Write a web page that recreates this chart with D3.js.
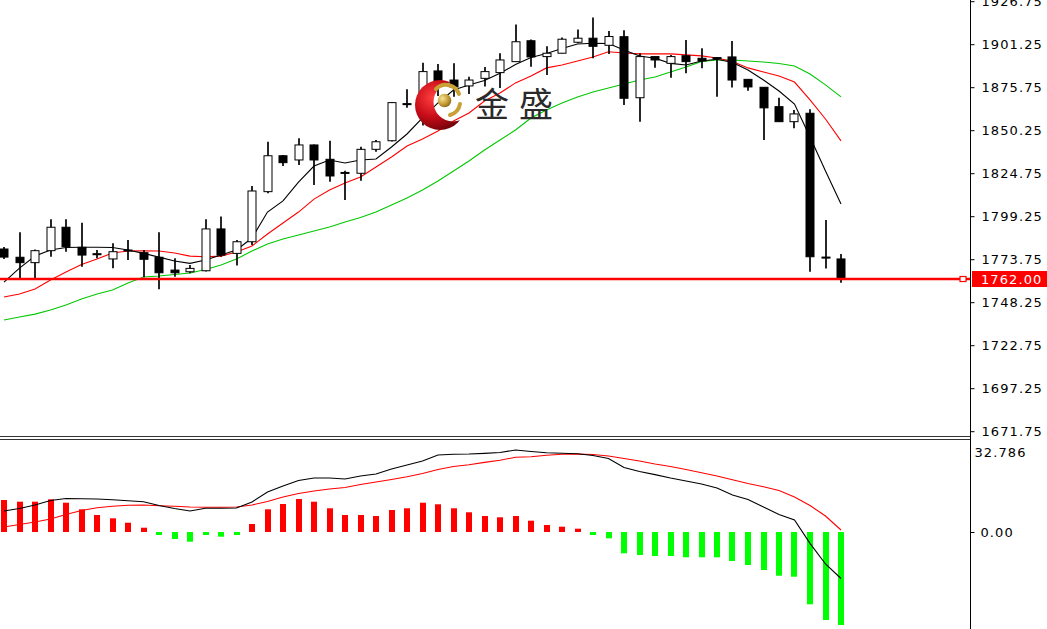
<!DOCTYPE html>
<html><head><meta charset="utf-8">
<script src="https://cdn.jsdelivr.net/npm/d3@7"></script>
<style>html,body{margin:0;padding:0;background:#fff;overflow:hidden}svg{display:block}</style>
</head><body>
<svg id="chart" width="1047" height="629"></svg>
<script>
// ---- data ----
const openP  = [1779.8,1774.9,1771.7,1778.8,1792.7,1780.8,1777.0,1773.9,1779.2,1777.6,1774.9,1767.3,1766.3,1766.9,1791.7,1777.2,1784.1,1813.8,1835.1,1832.6,1841.5,1833.0,1825.2,1824.7,1838.9,1844.0,1866.0,1862.0,1885.4,1880.0,1876.5,1881.0,1884.4,1890.9,1903.3,1893.9,1895.9,1902.4,1904.8,1900.6,1905.7,1869.5,1893.9,1889.9,1894.4,1892.9,1893.3,1893.7,1880.4,1875.7,1864.2,1855.3,1860.3,1775.0,1773.9];
const highP  = [1781.0,1789.7,1779.5,1797.4,1797.4,1795.4,1779.2,1783.2,1785.1,1779.2,1789.7,1774.3,1770.3,1797.4,1799.0,1785.1,1817.2,1843.4,1835.5,1845.5,1841.8,1844.0,1826.2,1840.5,1844.4,1867.0,1874.5,1890.3,1889.5,1889.9,1882.0,1887.7,1895.9,1912.9,1904.0,1900.0,1905.2,1910.0,1917.1,1909.1,1909.5,1895.9,1894.3,1894.9,1903.8,1898.8,1893.7,1903.2,1880.4,1875.7,1869.5,1862.2,1862.7,1797.0,1776.8];
const lowP   = [1773.9,1762.4,1762.4,1775.2,1778.2,1769.3,1774.3,1768.4,1773.3,1763.0,1755.9,1763.4,1765.4,1766.5,1775.2,1770.0,1782.2,1812.8,1829.0,1829.6,1817.8,1819.7,1808.9,1820.3,1837.5,1843.5,1863.6,1853.0,1870.5,1870.1,1871.7,1876.1,1875.3,1890.7,1887.9,1883.0,1895.8,1901.8,1892.9,1895.5,1865.2,1855.3,1887.3,1881.4,1884.0,1887.0,1870.1,1875.6,1873.7,1844.4,1855.3,1851.4,1766.3,1768.3,1759.8];
const closeP = [1775.0,1771.7,1778.8,1792.7,1781.2,1776.2,1776.8,1778.2,1779.0,1773.7,1765.7,1765.7,1768.3,1791.7,1776.2,1784.1,1814.2,1835.1,1831.0,1841.5,1832.6,1823.1,1825.0,1838.9,1843.4,1866.6,1865.8,1885.0,1878.8,1875.9,1880.0,1885.0,1891.9,1902.7,1893.7,1895.9,1904.2,1904.8,1900.0,1905.8,1869.2,1893.9,1891.9,1893.9,1890.9,1891.3,1893.0,1880.0,1875.9,1863.5,1855.3,1859.9,1775.2,1774.8,1762.0];

const maFast = [1760.2,1768.5,1775.6,1779.2,1780.7,1780.8,1780.8,1780.7,1779.2,1777.2,1775.0,1772.7,1771.3,1773.3,1776.2,1779.2,1786.3,1801.7,1808.3,1819.5,1829.0,1832.6,1830.8,1832.6,1833.2,1840.3,1848.0,1857.5,1866.4,1874.1,1877.1,1879.7,1884.0,1889.2,1893.4,1895.7,1898.7,1901.4,1901.8,1901.7,1897.8,1894.3,1892.9,1889.9,1888.9,1891.3,1892.3,1890.4,1886.0,1880.0,1873.5,1865.8,1846.2,1826.1,1806.5];
const maMid  = [1751.3,1753.1,1756.1,1761.4,1766.2,1770.6,1773.9,1777.4,1778.6,1778.8,1778.6,1777.4,1775.6,1775.2,1775.6,1778.0,1781.6,1788.7,1795.2,1801.7,1809.4,1814.8,1818.9,1822.5,1828.4,1834.4,1840.9,1845.0,1849.8,1855.7,1860.5,1867.6,1872.3,1878.3,1882.4,1887.2,1888.9,1891.3,1893.7,1896.8,1896.0,1895.5,1895.5,1895.5,1894.9,1894.3,1893.1,1891.0,1887.2,1884.8,1882.4,1878.8,1868.2,1856.9,1843.9];
const maSlow = [1737.7,1739.5,1741.2,1743.6,1746.6,1750.1,1753.1,1755.5,1759.6,1763.2,1763.8,1764.7,1765.6,1767.6,1770.3,1773.9,1778.6,1782.8,1785.7,1788.1,1790.5,1792.8,1795.8,1798.5,1801.7,1805.9,1810.0,1814.8,1820.1,1826.1,1832.0,1838.5,1844.4,1850.4,1857.5,1862.2,1866.4,1870.0,1872.9,1875.3,1877.7,1880.0,1881.8,1884.8,1887.7,1891.0,1891.9,1891.9,1891.3,1890.7,1889.8,1888.3,1883.6,1877.1,1870.0];

const macdHist   = [11.40,10.80,10.80,11.65,10.44,8.09,6.06,4.88,3.31,1.53,-1.07,-2.49,-3.46,-1.07,-1.67,-1.07,2.85,8.09,9.98,11.76,10.80,8.45,6.06,6.06,5.70,7.84,8.45,10.44,9.87,8.45,7.02,5.70,5.24,5.70,4.03,2.49,1.89,1.18,-1.07,-2.25,-7.59,-8.20,-8.55,-8.55,-9.02,-9.02,-9.02,-10.34,-11.76,-13.54,-15.57,-15.93,-25.77,-31.36,-33.14];
const macdLine   = [7.48,8.37,9.62,11.23,11.94,11.83,11.76,11.48,11.12,10.80,9.44,8.37,7.48,8.45,8.45,8.55,10.69,14.26,16.39,18.35,19.24,19.24,18.89,19.96,20.67,22.45,23.88,25.30,27.44,27.73,27.80,28.01,28.33,29.22,28.69,28.23,28.08,27.87,27.26,26.19,22.99,21.56,20.46,19.24,18.18,17.11,15.68,13.19,11.58,8.91,6.24,4.28,-4.03,-11.40,-16.57];
const macdSignal = [1.78,2.67,3.56,4.63,6.24,7.66,8.62,9.16,9.52,9.62,9.37,9.16,8.91,8.80,8.80,8.91,9.62,10.87,12.47,13.72,14.61,15.32,15.86,16.93,17.82,18.71,19.67,20.85,22.27,23.34,23.95,24.80,25.55,26.66,26.84,27.37,27.69,27.80,27.62,27.08,26.19,25.30,24.23,23.34,22.27,21.13,19.96,18.60,17.28,16.11,14.79,12.47,9.44,5.70,0.71];

const priceTicks = [1926.75,1901.25,1875.75,1850.25,1824.75,1799.25,1773.75,1748.25,1722.75,1697.25,1671.75];
const macdTickLabels = ["32.786","0.00"];
const macdTickValues = [32.786, 0];
const lastPrice = 1762.00;
const logoText = "金盛";

// ---- layout ----
const W = 1047, H = 629;
const axisX = 970;
const svg = d3.select("#chart");
const bars = d3.range(openP.length);

const x = d3.scaleLinear().domain([0, bars.length - 1]).range([4, 841]);
const y = d3.scaleLinear().domain([1671.75, 1926.75]).range([431.2, 1.2]);
const ym = d3.scaleLinear().domain([0, 32.786]).range([532, 440]);

const main = svg.append("g");

// moving averages
const maLine = d3.line().x((d, i) => x(i)).y(d => y(d));
[[maSlow, "#00c800"], [maMid, "#ff0000"], [maFast, "#000000"]].forEach(([arr, col]) => {
  main.append("path").datum(arr).attr("d", maLine)
    .attr("fill", "none").attr("stroke", col).attr("stroke-width", 1.1);
});

// candles
const cg = main.append("g");
cg.selectAll("line.wick").data(bars).join("line")
  .attr("x1", i => Math.round(x(i))).attr("x2", i => Math.round(x(i)))
  .attr("y1", i => y(highP[i])).attr("y2", i => y(lowP[i]))
  .attr("stroke", "#000").attr("stroke-width", 1.7);
cg.selectAll("rect.body").data(bars).join("rect")
  .attr("x", i => Math.round(x(i)) - 4)
  .attr("width", 8)
  .attr("y", i => y(Math.max(openP[i], closeP[i])))
  .attr("height", i => Math.max(1, Math.abs(y(openP[i]) - y(closeP[i]))))
  .attr("fill", i => closeP[i] >= openP[i] ? "#fff" : "#000")
  .attr("stroke", "#000").attr("stroke-width", 1);

// last price line
main.append("line").attr("x1", 0).attr("x2", axisX)
  .attr("y1", y(lastPrice)).attr("y2", y(lastPrice))
  .attr("stroke", "#ff0000").attr("stroke-width", 2.6);
main.append("rect").attr("x", 960).attr("y", y(lastPrice) - 2.5).attr("width", 6).attr("height", 5)
  .attr("fill", "#fff").attr("stroke", "#ff0000").attr("stroke-width", 1.2);

// logo
const defs = svg.append("defs");
const rg = defs.append("radialGradient").attr("id", "redg").attr("cx", "35%").attr("cy", "35%").attr("r", "70%");
rg.append("stop").attr("offset", "0%").attr("stop-color", "#ff4040");
rg.append("stop").attr("offset", "55%").attr("stop-color", "#c80c18");
rg.append("stop").attr("offset", "100%").attr("stop-color", "#70040a");
const gg = defs.append("radialGradient").attr("id", "goldg").attr("cx", "35%").attr("cy", "35%").attr("r", "70%");
gg.append("stop").attr("offset", "0%").attr("stop-color", "#f6e39a");
gg.append("stop").attr("offset", "60%").attr("stop-color", "#c9a036");
gg.append("stop").attr("offset", "100%").attr("stop-color", "#8d6a1c");
const mask = defs.append("mask").attr("id", "cres");
mask.append("rect").attr("x", 0).attr("y", 0).attr("width", W).attr("height", H).attr("fill", "#fff");
mask.append("circle").attr("cx", 453).attr("cy", 102).attr("r", 19.5).attr("fill", "#000");
const logo = svg.append("g");
logo.append("circle").attr("cx", 440).attr("cy", 105).attr("r", 25).attr("fill", "url(#redg)").attr("mask", "url(#cres)");
logo.append("circle").attr("cx", 444.5).attr("cy", 100.5).attr("r", 6.8).attr("fill", "url(#goldg)");
logo.append("path").attr("d", "M436 89 A14 14 0 0 1 459 94").attr("fill", "none")
  .attr("stroke", "#c9a036").attr("stroke-width", 4).attr("stroke-linecap", "round");
logo.append("path").attr("d", "M460 104 A14 14 0 0 1 450 115").attr("fill", "none")
  .attr("stroke", "#c9a036").attr("stroke-width", 4).attr("stroke-linecap", "round");
logo.append("text").attr("x", 475).attr("y", 117).text(logoText)
  .attr("font-family", "'Noto Sans CJK SC'").attr("font-size", 34).attr("letter-spacing", 10)
  .attr("fill", "#2a2a2a");

// ---- MACD panel ----
const mg = svg.append("g");
mg.selectAll("rect.hist").data(bars).join("rect")
  .attr("x", i => Math.round(x(i)) - 3).attr("width", 6)
  .attr("y", i => Math.min(ym(0), ym(macdHist[i])))
  .attr("height", i => Math.abs(ym(macdHist[i]) - ym(0)))
  .attr("fill", i => macdHist[i] >= 0 ? "#ff0000" : "#00ff00");
const mLine = d3.line().x((d, i) => x(i)).y(d => ym(d));
mg.append("path").datum(macdSignal).attr("d", mLine).attr("fill", "none").attr("stroke", "#ff0000").attr("stroke-width", 1.1);
mg.append("path").datum(macdLine).attr("d", mLine).attr("fill", "none").attr("stroke", "#000").attr("stroke-width", 1.1);

// separator
svg.append("line").attr("x1", 0).attr("x2", axisX).attr("y1", 436.5).attr("y2", 436.5).attr("stroke", "#333").attr("stroke-width", 1);
svg.append("line").attr("x1", 0).attr("x2", axisX).attr("y1", 439.5).attr("y2", 439.5).attr("stroke", "#333").attr("stroke-width", 1);

// ---- right axes ----
svg.append("line").attr("x1", axisX + 0.5).attr("x2", axisX + 0.5).attr("y1", 0).attr("y2", H).attr("stroke", "#000").attr("stroke-width", 1);
const priceAxis = d3.axisRight(y).tickValues(priceTicks).tickFormat(d3.format(".2f")).tickSize(4).tickPadding(7);
const pa = svg.append("g").attr("transform", `translate(${axisX + 0.5},0)`).call(priceAxis);
pa.select(".domain").remove();
pa.selectAll("text").attr("font-family", "'DejaVu Sans'").attr("font-size", 13).attr("letter-spacing", 1.1).attr("fill", "#000");
pa.selectAll("line").attr("stroke", "#000");

const macdAxis = d3.axisRight(ym).tickValues(macdTickValues).tickFormat((d, i) => macdTickLabels[i]).tickSize(4).tickPadding(6);
const ma = svg.append("g").attr("transform", `translate(${axisX + 0.5},0)`).call(macdAxis);
ma.select(".domain").remove();
ma.selectAll("text").attr("font-family", "'DejaVu Sans'").attr("font-size", 13).attr("letter-spacing", 1.1).attr("fill", "#000");
ma.selectAll(".tick").filter(d => d === 32.786).select("line").remove();
ma.selectAll(".tick").filter(d => d === 32.786).select("text").attr("x", 4).attr("dy", "1.3em");

// last price label
const ly = y(lastPrice);
svg.append("rect").attr("x", 972).attr("y", ly - 8).attr("width", 75).attr("height", 16).attr("fill", "#ff0000");
svg.append("text").attr("x", 981).attr("y", ly).attr("dy", "0.35em").text(d3.format(".2f")(lastPrice))
  .attr("font-family", "'DejaVu Sans'").attr("font-size", 13).attr("letter-spacing", 1.1).attr("fill", "#fff");
</script>
</body></html>
